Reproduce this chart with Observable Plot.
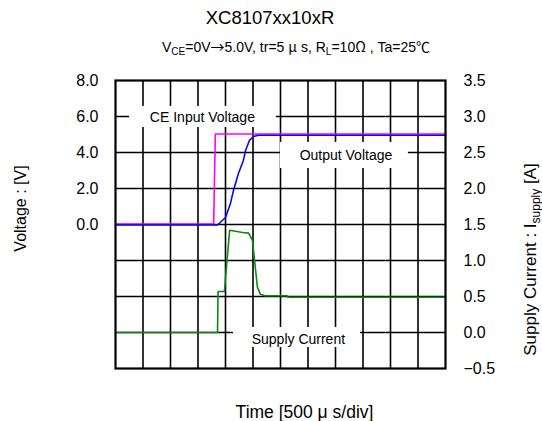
<!DOCTYPE html>
<html><head><meta charset="utf-8">
<script src="https://cdn.jsdelivr.net/npm/d3@7"></script>
<script src="https://cdn.jsdelivr.net/npm/@observablehq/plot@0.6"></script>
<style>
body{margin:0;background:#fff;font-family:"Liberation Sans",Arial,sans-serif;color:#000;}
#wrap{position:relative;width:542px;height:421px;}
#head{position:relative;height:70px;}
.t{position:absolute;white-space:nowrap;transform:translate(-50%,-50%);}
#title{left:270px;top:18px;font-size:18.5px;}
#sub{left:296px;top:46px;font-size:14px;}
.cjk{font-family:"Noto Sans CJK JP",sans-serif;}
sub{font-size:10px;vertical-align:-3px;line-height:0}
svg{display:block}
</style></head>
<body><div id="wrap"><div id="head"><div id="title" class="t">XC8107xx10xR</div><div id="sub" class="t">V<sub>CE</sub>=0V<span class="cjk">→</span>5.0V, tr=5 <span class="cjk">μ</span> s, R<sub>L</sub>=10<span class="cjk">Ω</span> , Ta=25<span class="cjk">℃</span></div></div><div id="chart"></div></div>
<script>
// Time in divisions (500 µs/div)
const ceTime  = [0, 3.57, 3.63, 12];
const ceVolt  = [0.03, 0.03, 5.03, 5.03];

const outTime = [0, 3.71, 4.0, 4.18, 4.29, 4.47, 4.65, 4.73, 4.87, 5.02, 5.2, 12];
const outVolt = [-0.03, -0.03, 0.39, 1.17, 1.89, 2.83, 3.56, 4.11, 4.67, 4.89, 4.96, 4.96];

const curTime = [0, 3.71, 3.73, 3.96, 4.15, 4.62, 4.84, 4.98, 5.16, 5.27, 5.45, 6.25, 6.27, 12];
const curAmp  = [0, 0, 0.57, 0.57, 1.42, 1.39, 1.38, 1.28, 0.63, 0.53, 0.51, 0.51, 0.49, 0.49];

const voltTicks = [0, 2, 4, 6, 8];
const curTicks  = [-0.5, 0, 0.5, 1.0, 1.5, 2.0, 2.5, 3.0, 3.5];
const gridX = [1,2,3,4,5,6,7,8,9,10,11];
const gridV = [-6,-4,-2,0,2,4,6];

const labelNames = ["CE Input Voltage", "Output Voltage", "Supply Current"];
// annotation placement (voltage-axis units)
const labelBoxes = [
  {x1:0.51, x2:5.85, y1:5.39, y2:6.56, tx:3.16, ty:5.94},
  {x1:6.0, x2:10.65, y1:3.11, y2:4.56, tx:8.38, ty:3.83},
  {x1:4.29, x2:8.91, y1:-6.83, y2:-5.72, tx:6.65, ty:-6.4}
].map((b,i)=>({...b, name:labelNames[i]}));

const toV = a => 4*a - 6;           // current [A] -> voltage-axis position
const fromV = v => (v + 6)/4;
const fmt = x => { const s = Math.abs(x).toFixed(1); return x < -1e-9 ? "\u2212" + s : s; };

const ce  = ceTime.map((t,i)=>({t, v:ceVolt[i]}));
const out = outTime.map((t,i)=>({t, v:outVolt[i]}));
const cur = curTime.map((t,i)=>({t, a:curAmp[i]}));

const font = '"Liberation Sans", Arial, sans-serif';
const plot = Plot.plot({
  width:542, height:351,
  marginLeft:115, marginRight:97, marginTop:10, marginBottom:53,
  x:{domain:[0,12], axis:null},
  y:{domain:[-8,8], axis:null},
  style:{fontFamily:font, fontSize:"16px", color:"black", background:"white", overflow:"visible"},
  marks:[
    Plot.ruleX(gridX, {stroke:"black", strokeWidth:1.6}),
    Plot.ruleY(gridV, {stroke:"black", strokeWidth:1.6}),
    Plot.rect(labelBoxes, {x1:"x1", x2:"x2", y1:"y1", y2:"y2", fill:"white"}),
    Plot.text(labelBoxes, {x:"tx", y:"ty", text:"name", fontSize:14, fill:"black"}),
    Plot.line(cur, {x:"t", y:d=>toV(d.a), stroke:"#118811", strokeWidth:1.6}),
    Plot.line(ce,  {x:"t", y:"v", stroke:"#ff00ff", strokeWidth:1.6}),
    Plot.line(out, {x:"t", y:"v", stroke:"#0a0aee", strokeWidth:1.6}),
    Plot.frame({stroke:"black", strokeWidth:2.2}),
    Plot.axisY({anchor:"left", ticks:voltTicks, tickFormat:d=>d.toFixed(1), tickSize:0, tickPadding:17, label:null, fontSize:16}),
    Plot.axisY({anchor:"right", ticks:curTicks.map(toV), tickFormat:v=>fmt(fromV(v)), tickSize:0, tickPadding:18, label:null, fontSize:16}),
    Plot.text(["Voltage : [V]"], {frameAnchor:"left", dx:-95, dy:-16, rotate:-90, fontSize:16, textAnchor:"middle", lineAnchor:"middle"}),
    Plot.text(["Supply Current : Isupply [A]"], {frameAnchor:"right", dx:85, dy:35, rotate:-90, fontSize:17, textAnchor:"middle", lineAnchor:"middle"}),
    Plot.text(["Time [500 μ s/div]"], {frameAnchor:"bottom", dx:24, dy:44, fontSize:17.5, textAnchor:"middle", lineAnchor:"middle"})
  ]
});
document.getElementById("chart").appendChild(plot);

// subscript for I_supply
plot.querySelectorAll("text").forEach(t => {
  if (t.textContent === "Supply Current : Isupply [A]") {
    t.textContent = "";
    const ns = "http://www.w3.org/2000/svg";
    const a = document.createElementNS(ns, "tspan"); a.textContent = "Supply Current : I";
    const b = document.createElementNS(ns, "tspan"); b.textContent = "supply"; b.setAttribute("dy", "4"); b.setAttribute("font-size", "12");
    const c = document.createElementNS(ns, "tspan"); c.textContent = " [A]"; c.setAttribute("dy", "-4");
    t.append(a, b, c);
  }
});
</script>
</body></html>
